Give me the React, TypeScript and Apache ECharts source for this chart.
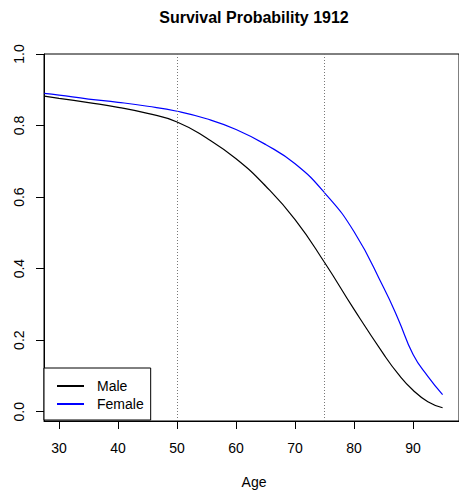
import React, { useEffect, useRef } from "react";
import * as echarts from "echarts";

const ages = [27.5, 30, 35, 40, 45, 50, 55, 60, 65, 70, 75, 80, 85, 87.5, 90, 92.5, 95];
const maleValues = [0.882, 0.876, 0.864, 0.851, 0.834, 0.81, 0.765, 0.707, 0.631, 0.537, 0.417, 0.286, 0.161, 0.105, 0.06, 0.028, 0.011];
const femaleValues = [0.89, 0.885, 0.874, 0.865, 0.854, 0.84, 0.819, 0.789, 0.747, 0.693, 0.612, 0.503, 0.347, 0.258, 0.16, 0.099, 0.048];
const xTicks = [30, 40, 50, 60, 70, 80, 90];
const yTicks = [0, 0.2, 0.4, 0.6, 0.8, 1.0];
const refAges = [50, 75];

const FONT = "Liberation Sans, Arial, Helvetica, sans-serif";

export default function App() {
  const ref = useRef<HTMLDivElement>(null);
  useEffect(() => {
    if (!ref.current) return;
    const chart = echarts.init(ref.current, undefined, { renderer: "svg" });
    chart.setOption({
      animation: false,
      backgroundColor: "#fff",
      textStyle: { fontFamily: FONT },
      grid: {
        left: 44,
        top: 54,
        right: -7,
        bottom: 69,
        show: true,
        borderColor: "#000",
        borderWidth: 1,
        containLabel: false,
      },
      graphic: [
        {
          type: "text",
          x: 254,
          y: 17,
          style: {
            text: "Survival Probability 1912",
            fontFamily: FONT,
            fontSize: 16,
            fontWeight: "bold",
            fill: "#000",
            textAlign: "center",
            textVerticalAlign: "middle",
          },
        },
        {
          type: "text",
          x: 254,
          y: 482,
          style: {
            text: "Age",
            fontFamily: FONT,
            fontSize: 14,
            fill: "#000",
            textAlign: "center",
            textVerticalAlign: "middle",
          },
        },
      ],
      legend: {
        left: 44,
        top: 368,
        orient: "vertical",
        backgroundColor: "#fff",
        borderColor: "#000",
        borderWidth: 1,
        borderRadius: 0,
        padding: [11, 7, 9, 13],
        icon: "rect",
        itemWidth: 27,
        itemHeight: 2,
        itemGap: 4,
        textStyle: { fontFamily: FONT, fontSize: 14, color: "#000", padding: [0, 0, 0, 8] },
        data: ["Male", "Female"],
      },
      xAxis: {
        type: "value",
        min: 27.45,
        max: 97.78,
        axisLine: { show: true, onZero: false, lineStyle: { color: "#000", width: 1 } },
        axisTick: { show: true, length: 8, lineStyle: { color: "#000" }, customValues: xTicks },
        axisLabel: {
          show: true,
          margin: 20,
          fontFamily: FONT,
          fontSize: 14,
          color: "#000",
          customValues: xTicks,
        },
        splitLine: { show: false },
      },
      yAxis: {
        type: "value",
        min: -0.026,
        max: 1.0,
        axisLine: { show: true, onZero: false, lineStyle: { color: "#000", width: 1 } },
        axisTick: { show: true, length: 8, lineStyle: { color: "#000" }, customValues: yTicks },
        axisLabel: {
          show: true,
          rotate: 90,
          margin: 18,
          fontFamily: FONT,
          fontSize: 14,
          color: "#000",
          customValues: yTicks,
          formatter: (v: number) => v.toFixed(1),
        },
        splitLine: { show: false },
      },
      series: [
        {
          name: "Male",
          type: "line",
          data: ages.map((a, i) => [a, maleValues[i]]),
          smooth: 0.5,
          showSymbol: false,
          symbol: "none",
          lineStyle: { color: "#000", width: 1.2 },
          itemStyle: { color: "#000" },
          markLine: {
            silent: true,
            symbol: "none",
            label: { show: false },
            lineStyle: { color: "#777", type: [1, 2], width: 1 },
            data: refAges.map((a) => ({ xAxis: a })),
          },
        },
        {
          name: "Female",
          type: "line",
          data: ages.map((a, i) => [a, femaleValues[i]]),
          smooth: 0.5,
          showSymbol: false,
          symbol: "none",
          lineStyle: { color: "#0000ff", width: 1.2 },
          itemStyle: { color: "#0000ff" },
        },
      ],
    });
    return () => chart.dispose();
  }, []);
  return <div ref={ref} style={{ width: 459, height: 490, position: "absolute", left: 0, top: 0 }} />;
}
